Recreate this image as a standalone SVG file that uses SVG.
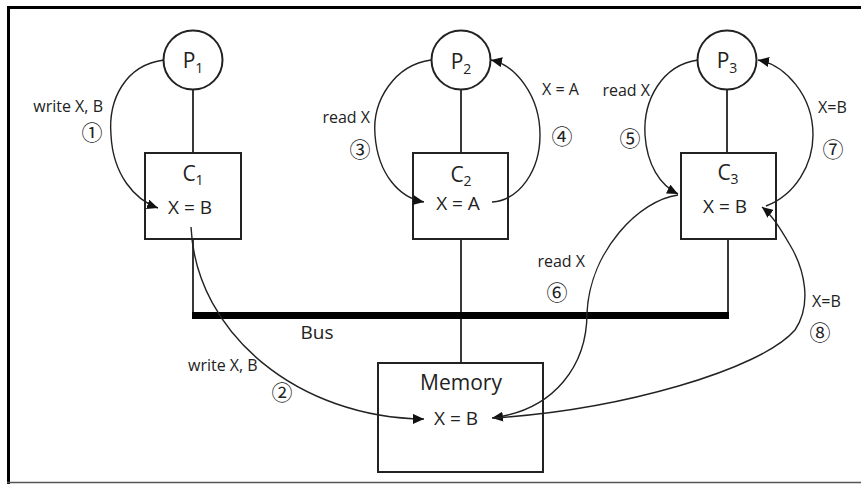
<svg xmlns="http://www.w3.org/2000/svg" width="861" height="484" viewBox="0 0 861 484">
  <style>
    .node { fill: #ffffff; stroke: #222222; stroke-width: 2; }
    .wire { fill: none; stroke: #222222; stroke-width: 1.8; }
    .flow { fill: none; stroke: #222222; stroke-width: 1.4; marker-end: url(#head); }
    .lbl  { font-family: "Open Sans", "Liberation Sans", sans-serif; fill: #222222; }
    .big  { font-size: 21px; }
    .sub  { font-size: 14px; }
    .val  { font-size: 19px; }
    .note { font-size: 16px; }
    .step { font-family: "Noto Sans CJK JP", "DejaVu Sans", sans-serif; font-size: 21px; fill: #222222; text-anchor: middle; }
  </style>
  <defs>
    <marker id="head" markerUnits="userSpaceOnUse" markerWidth="12" markerHeight="10" refX="11" refY="5" orient="auto">
      <path d="M0,0 L11,5 L0,10 Z" fill="#111111"/>
    </marker>
  </defs>

  <rect width="861" height="484" fill="#ffffff"/>

  <!-- frame -->
  <g id="frame">
    <path d="M8.5,484 V7.5 H861" fill="none" stroke="#000000" stroke-width="3"/>
    <path d="M7,482.5 H861" fill="none" stroke="#555555" stroke-width="1.5"/>
  </g>

  <!-- processors -->
  <g id="p1">
    <circle class="node" cx="193" cy="60" r="29.5"/>
    <text class="lbl big" x="193" y="68" text-anchor="middle">P<tspan class="sub" dy="5">1</tspan></text>
  </g>
  <g id="p2">
    <circle class="node" cx="461" cy="60" r="29.5"/>
    <text class="lbl big" x="461" y="69" text-anchor="middle">P<tspan class="sub" dy="5">2</tspan></text>
  </g>
  <g id="p3">
    <circle class="node" cx="727" cy="60" r="29.5"/>
    <text class="lbl big" x="727" y="68" text-anchor="middle">P<tspan class="sub" dy="5">3</tspan></text>
  </g>

  <!-- caches -->
  <g id="c1">
    <rect class="node" x="145" y="153" width="96" height="86"/>
    <text class="lbl big" x="193" y="181" text-anchor="middle">C<tspan class="sub" dy="4">1</tspan></text>
    <text class="lbl val" x="190" y="214" text-anchor="middle">X = B</text>
  </g>
  <g id="c2">
    <rect class="node" x="413" y="153" width="95" height="86"/>
    <text class="lbl big" x="461" y="182" text-anchor="middle">C<tspan class="sub" dy="4">2</tspan></text>
    <text class="lbl val" x="458" y="210" text-anchor="middle">X = A</text>
  </g>
  <g id="c3">
    <rect class="node" x="681" y="153" width="95" height="86"/>
    <text class="lbl big" x="728" y="180" text-anchor="middle">C<tspan class="sub" dy="4">3</tspan></text>
    <text class="lbl val" x="725" y="213" text-anchor="middle">X = B</text>
  </g>

  <!-- memory -->
  <g id="memory">
    <rect class="node" x="378" y="363" width="165" height="109"/>
    <text class="lbl big" x="461" y="390" text-anchor="middle">Memory</text>
    <text class="lbl val" x="456" y="425" text-anchor="middle">X = B</text>
  </g>

  <!-- links, bus and message arrows -->
  <g id="connectors">
    <path class="wire" d="M193,89.5 V153"/>
    <path class="wire" d="M461,90 V153"/>
    <path class="wire" d="M727,89.5 V153"/>
    <path class="wire" d="M461,239 V363"/>
    <path class="wire" d="M193,239 V315"/>
    <path class="wire" d="M728,239 V315"/>
    <path id="bus" d="M192,315.5 H729" fill="none" stroke="#000000" stroke-width="7"/>

    <!-- 1: P1 writes into C1 -->
    <path class="flow" d="M164,60 C125,65 108,100 111,135 C113,175 135,200 158,208"/>
    <!-- 2: C1 writes through to memory -->
    <path class="flow" d="M191,227 C196,335 300,418 424,419"/>
    <!-- 3: P2 reads C2 -->
    <path class="flow" d="M431,60 C395,65 372,100 375,135 C378,175 400,198 424,202"/>
    <!-- 4: C2 returns stale value -->
    <path class="flow" d="M492,202 C520,200 540,170 540,135 C540,95 515,65 491,60"/>
    <!-- 5: P3 reads C3 -->
    <path class="flow" d="M698,60 C662,65 643,100 645,135 C647,165 660,185 678,194"/>
    <!-- 6: C3 miss goes to memory -->
    <path class="flow" d="M678,195 C640,200 590,250 587,313 C587,365 555,410 492,418"/>
    <!-- 7: C3 returns value to P3 -->
    <path class="flow" d="M766,206 C795,195 813,165 813,135 C813,95 785,65 758,60"/>
    <!-- 8: memory fills C3 -->
    <path class="flow" d="M493,418 C620,410 760,370 795,330 C812,305 805,270 790,245 C780,228 772,215 762,207"/>
  </g>

  <!-- bus label -->
  <text class="lbl val" x="317" y="339" text-anchor="middle">Bus</text>

  <!-- message labels -->
  <g id="labels">
    <text class="lbl note" x="103" y="112" text-anchor="end">write X, B</text>
    <text class="step" x="92" y="140">①</text>
    <text class="lbl note" x="188" y="371">write X, B</text>
    <text class="step" x="282" y="400">②</text>
    <text class="lbl note" x="370" y="123" text-anchor="end">read X</text>
    <text class="step" x="360" y="157">③</text>
    <text class="lbl note" x="542" y="95">X = A</text>
    <text class="step" x="562" y="144">④</text>
    <text class="lbl note" x="650" y="96" text-anchor="end">read X</text>
    <text class="step" x="630" y="146">⑤</text>
    <text class="lbl note" x="585" y="267" text-anchor="end">read X</text>
    <text class="step" x="557" y="300">⑥</text>
    <text class="lbl note" x="818" y="113">X=B</text>
    <text class="step" x="833" y="157">⑦</text>
    <text class="lbl note" x="812" y="307">X=B</text>
    <text class="step" x="820" y="340">⑧</text>
  </g>
</svg>
